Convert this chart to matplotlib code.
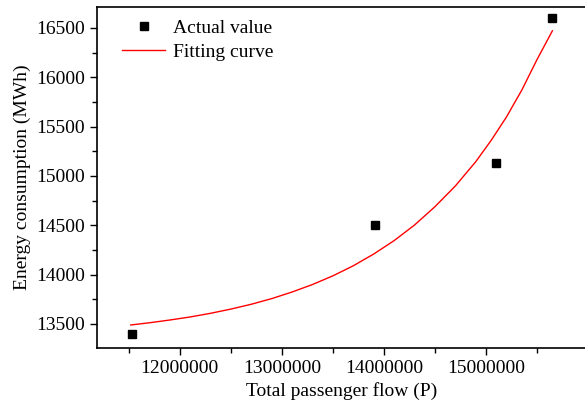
import matplotlib
matplotlib.use("Agg")
import matplotlib.pyplot as plt
from matplotlib.ticker import MultipleLocator

plt.rcParams['font.family'] = ['Liberation Serif', 'DejaVu Serif']

# measured points
flow = [11530000, 13912000, 15095000, 15650000]
energy = [13399, 14505, 15132, 16601]

# fitting curve
fit_x = [11520000, 11700000, 11900000, 12100000, 12300000, 12500000,
         12700000, 12900000, 13100000, 13300000, 13500000, 13700000,
         13900000, 14100000, 14300000, 14500000, 14700000, 14900000,
         15050000, 15200000, 15350000, 15500000, 15650000]
fit_y = [13490, 13512, 13540, 13571, 13608, 13651, 13700, 13757,
         13824, 13900, 13988, 14090, 14209, 14345, 14503, 14689,
         14899, 15145, 15360, 15597, 15869, 16180, 16470]

fig = plt.figure(figsize=(5.85, 4.07), dpi=100)
ax = fig.add_axes([0.166, 0.145, 0.8376, 0.838])

ax.plot(flow, energy, 's', color='black', markersize=5.5, label='Actual value')
ax.plot(fit_x, fit_y, '-', color='red', linewidth=1.0, label='Fitting curve')

ax.set_xlim(11190000, 15990000)
ax.set_ylim(13257, 16712)
ax.xaxis.set_major_locator(MultipleLocator(1000000))
ax.xaxis.set_minor_locator(MultipleLocator(500000))
ax.yaxis.set_major_locator(MultipleLocator(500))
ax.yaxis.set_minor_locator(MultipleLocator(250))
ax.ticklabel_format(style='plain', useOffset=False)

ax.tick_params(which='major', direction='out', length=5, width=1, labelsize=14)
ax.tick_params(which='minor', direction='out', length=3.5, width=1)
for s in ax.spines.values():
    s.set_linewidth(1.2)
# the frame runs off the right edge of the picture
ax.spines['right'].set_visible(False)

ax.set_xlabel('Total passenger flow (P)', fontsize=14)
ax.set_ylabel('Energy consumption (MWh)', fontsize=14)

ax.legend(loc='upper left', bbox_to_anchor=(0.016, 1.016), frameon=False,
          fontsize=14, handlelength=2.2, labelspacing=0.35, handletextpad=0.4)

fig.savefig('out.png', dpi=100)
